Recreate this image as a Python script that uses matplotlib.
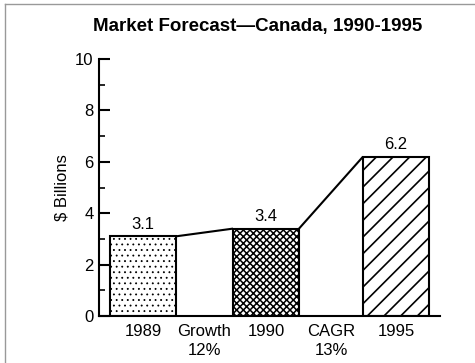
import matplotlib
matplotlib.use("Agg")
import matplotlib.pyplot as plt
from matplotlib.lines import Line2D
from matplotlib.ticker import MultipleLocator

plt.rcParams['font.family'] = ['Liberation Sans', 'DejaVu Sans']

years = ["1989", "1990", "1995"]
values = [3.1, 3.4, 6.2]
value_labels = ["3.1", "3.4", "6.2"]
gap_labels = ["Growth\n12%", "CAGR\n13%"]
y_ticks = [0, 2, 4, 6, 8, 10]

title = "Market Forecast\u2014Canada, 1990-1995"
y_title = "$ Billions"

# layout in axis units (pixel-like scale along x)
centers = [44, 167, 297]
width = 66
hatches = ["...", "xxxxx", "//"]
hatch_lw = [0.6, 1.1, 1.2]
fs = 12

fig = plt.figure(figsize=(4.75, 3.63), dpi=100)
ax = fig.add_axes([99 / 475, 47 / 363, 341 / 475, 257 / 363])

for c, v, h, lw in zip(centers, values, hatches, hatch_lw):
    with plt.rc_context({'hatch.linewidth': lw, 'hatch.color': 'black'}):
        ax.bar(c, v, width=width, facecolor='white', edgecolor='black',
               linewidth=1.5, hatch=h, zorder=2)

# connectors from the top of each bar to the next one
for i in range(len(values) - 1):
    x0 = centers[i] + width / 2
    x1 = centers[i + 1] - width / 2
    ax.plot([x0, x1], [values[i], values[i + 1]], color='black', lw=1.5,
            zorder=3, solid_capstyle='butt')

for c, v, t in zip(centers, values, value_labels):
    ax.text(c, v + 0.18, t, ha='center', va='bottom', fontsize=fs)

trans = ax.get_xaxis_transform()
for c, t in zip(centers, years):
    ax.text(c, -0.03, t, ha='center', va='top', fontsize=fs, transform=trans)
for i, t in enumerate(gap_labels):
    gx = (centers[i] + centers[i + 1]) / 2
    ax.text(gx, -0.03, t, ha='center', va='top', fontsize=fs,
            transform=trans, linespacing=1.35)

ax.set_xlim(0, 341)
ax.set_ylim(0, 10)
ax.set_yticks(y_ticks)
ax.yaxis.set_minor_locator(MultipleLocator(1))
ax.tick_params(axis='y', which='major', direction='in', length=8, width=1.5,
               labelsize=fs, pad=4)
ax.tick_params(axis='y', which='minor', direction='in', length=4, width=1.2)
ax.set_xticks([])
for s in ['top', 'right']:
    ax.spines[s].set_visible(False)
ax.spines['left'].set_linewidth(1.5)
ax.spines['bottom'].set_linewidth(1.5)
ax.set_ylabel(y_title, fontsize=fs, labelpad=4)

fig.text(258 / 475, 1 - 27 / 363, title, ha='center', va='center',
         fontsize=13.5, fontweight='bold')

# thin frame around the figure
fig.add_artist(Line2D([5 / 475, 5 / 475], [0, 1 - 4 / 363], color='#999999',
                      lw=1, transform=fig.transFigure))
fig.add_artist(Line2D([5 / 475, 1], [1 - 4 / 363, 1 - 4 / 363], color='#999999',
                      lw=1, transform=fig.transFigure))

fig.savefig("out.png", dpi=100)
